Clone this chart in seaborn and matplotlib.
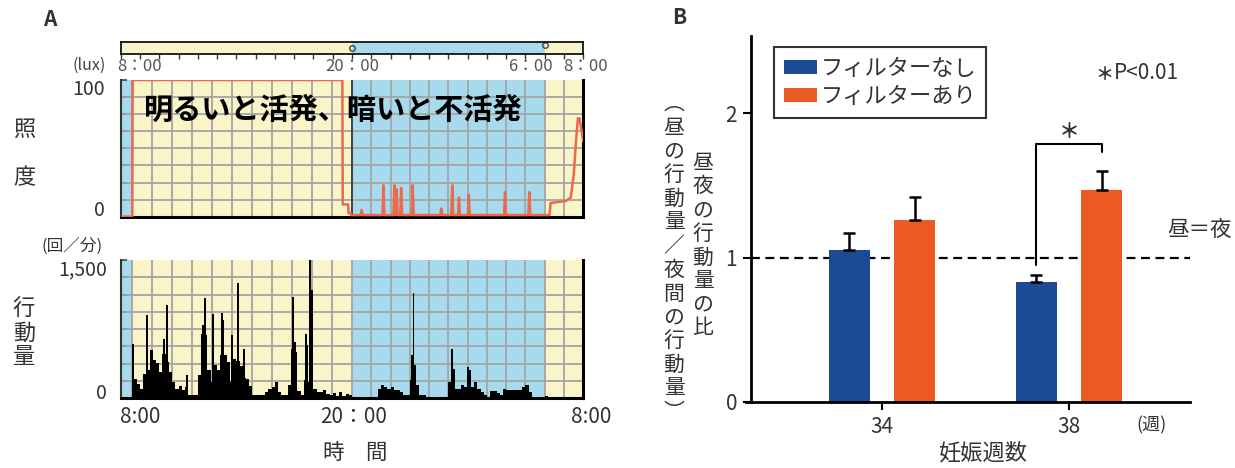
import numpy as np
import pandas as pd
import matplotlib
matplotlib.use("Agg")
import matplotlib.pyplot as plt
import seaborn as sns
from matplotlib.patches import Patch

# ---------------- data ----------------
# Panel A: illuminance trace (lux), x = hours after 8:00
lux_hours = [0.00, 0.60, 0.62, 11.50, 11.52, 11.80, 11.82, 11.93, 11.95,
             12.45, 12.50, 12.55,
             13.58, 13.63, 13.68,
             14.15, 14.20, 14.25,
             14.28, 14.32, 14.36,
             14.50, 14.55, 14.60,
             15.10, 15.15, 15.20,
             16.58, 16.63, 16.68,
             17.15, 17.20, 17.25,
             17.50, 17.55, 17.60,
             18.01, 18.06, 18.11,
             19.89, 19.94, 19.99,
             21.15, 21.20, 21.25,
             22.25, 22.30, 23.10, 23.35, 23.50, 23.62, 23.72, 23.80, 23.90, 24.00]
lux_values = [0, 0, 100, 100, 9, 9, 2.5, 2.5, 1.2,
              1.2, 5, 1.2,
              1.2, 23, 1.2,
              1.2, 23, 1.2,
              1.2, 20, 1.2,
              1.2, 21, 1.2,
              1.2, 23, 1.2,
              1.2, 6, 1.2,
              1.2, 23, 1.2,
              1.2, 14, 1.2,
              1.2, 16, 1.2,
              1.2, 18, 1.2,
              1.2, 18, 1.2,
              1.2, 10, 11.5, 14, 30, 55, 72, 72, 64, 55]

# Panel A: activity (counts/min), 10-minute levels starting at 8:00
activity_base = [
    0, 0, 0, 0, 210, 150,          # 8h
    100, 265, 300, 520, 410, 380,  # 9h
    283, 480, 392, 280, 174, 100,  # 10h
    130, 83, 120, 30, 30, 30,      # 11h
    250, 700, 682, 300, 174, 356,  # 12h
    300, 465, 465, 392, 174, 420,  # 13h
    400, 350, 220, 210, 130, 30,   # 14h
    30, 30, 30, 60, 100, 120,      # 15h
    174, 60, 30, 30, 138, 500,     # 16h
    500, 80, 30, 200, 174, 400,    # 17h
    100, 65, 65, 83, 40, 30,       # 18h
    50, 20, 60, 20, 40, 30,        # 19h
    0, 0, 0, 0, 0, 0,              # 20h
    0, 0, 100, 145, 120, 100,      # 21h
    120, 83, 83, 60, 30, 30,       # 22h
    200, 356, 138, 30, 30, 0,      # 23h
    10, 10, 10, 10, 10, 10,        # 0h
    174, 320, 100, 100, 138, 120,  # 1h
    300, 120, 174, 100, 65, 30,    # 2h
    0, 72, 72, 50, 30, 100,        # 3h
    90, 83, 83, 83, 83, 120,       # 4h
    138, 60, 0, 0, 0, 0,           # 5h
    20, 0, 0, 0, 0, 0,             # 6h
    0, 0, 0, 0, 0, 0,              # 7h
]
# narrow activity peaks
peak_hours = [0.64, 1.38, 2.26, 2.39, 3.42, 4.28, 4.37, 4.80, 5.24, 5.33, 5.79,
              6.10, 6.42, 8.87, 8.96, 9.04, 9.60, 9.65, 9.82, 9.91, 15.10,
              15.19, 15.27, 17.21, 18.04]
peak_counts = [592, 907, 639, 1016, 247, 791, 1089, 918, 929, 846, 682,
               1245, 537, 537, 1100, 610, 700, 574, 1500, 1172, 465,
               1136, 356, 537, 338]

# light (yellow) / dark (blue) periods, hours after 8:00
period_start = [0.0, 0.57, 12.0, 22.0]
period_end = [0.57, 12.0, 22.0, 24.0]
period_kind = ["dark", "light", "dark", "light"]
bar_start = [0.0, 12.0, 22.0]
bar_end = [12.0, 22.0, 24.0]
bar_kind = ["light", "dark", "light"]

# Panel B
weeks = ["34", "38"]
groups = ["フィルターなし", "フィルターあり"]
ratio_no_filter = [1.05, 0.83]
ratio_filter = [1.26, 1.47]
sem_no_filter = [0.12, 0.05]
sem_filter = [0.16, 0.13]

# ---------------- figure ----------------
sns.set_theme(style="white")
plt.rcParams["font.family"] = ["Noto Sans CJK JP", "DejaVu Sans"]
plt.rcParams["axes.unicode_minus"] = False

W, H = 1235, 468
fig = plt.figure(figsize=(W / 100, H / 100), dpi=100)
fig.patch.set_facecolor("white")

YELLOW = "#FAF5C8"
SKY = "#A8DAEE"
GRID = "#A4A4A4"
RED = "#EA6A4B"
TXT = "#333333"
NAVY = "#1C4A94"
ORANGE = "#EC5A24"
fill = {"light": YELLOW, "dark": SKY}


def px_axes(x0, y0, x1, y1):
    return fig.add_axes([x0 / W, 1 - y1 / H, (x1 - x0) / W, (y1 - y0) / H])


def ftext(x, y, s, **kw):
    kw.setdefault("color", TXT)
    return fig.text(x / W, 1 - y / H, s, **kw)


X0, X1 = 120.7, 583.3
vgrid = list(np.linspace(0.57, 12, 12)) + list(range(13, 24))


def style_trace_axes(ax, ymax):
    ax.set_facecolor("none")
    ax.grid(False)
    for s, e, k in zip(period_start, period_end, period_kind):
        ax.axvspan(s, e, color=fill[k], lw=0, zorder=0)
    for x in vgrid:
        ax.axvline(x, color=GRID, lw=1.3, zorder=0.6)
    for y in np.linspace(0, ymax, 9)[1:-1]:
        ax.axhline(y, color=GRID, lw=1.3, zorder=0.6)
    ax.set_xlim(0, 24)
    ax.set_ylim(0, ymax)
    ax.set_xticks([])
    ax.set_yticks(np.linspace(0, ymax, 9))
    ax.tick_params(axis="y", direction="in", length=4, width=1.1,
                   color="#333333", labelleft=False, left=True)
    ax.spines["top"].set_visible(False)
    ax.spines["left"].set_color("#333333")
    ax.spines["left"].set_linewidth(1.5)
    for sp in ("bottom", "right"):
        ax.spines[sp].set_color("black")
        ax.spines[sp].set_linewidth(2.2)
    ax.set_xlabel("")
    ax.set_ylabel("")


# --- top light bar ---
ax_top = px_axes(X0, 41.7, X1, 54)
for s, e, k in zip(bar_start, bar_end, bar_kind):
    ax_top.axvspan(s, e, color=fill[k], lw=0, zorder=0)
ax_top.set_xlim(0, 24)
ax_top.set_ylim(0, 1)
ax_top.set_xticks(range(25))
ax_top.set_yticks([])
ax_top.tick_params(axis="x", direction="out", length=3.5, width=1,
                   color="#333333", labelbottom=False, bottom=True)
for sp in ax_top.spines.values():
    sp.set_color("black")
    sp.set_linewidth(1.2)
ax_top.plot([12, 22], [0.5, 0.75], ls="none", marker="o", ms=4,
            mfc="none", mec="#444444", mew=1)

# --- illuminance ---
ax_lux = px_axes(X0, 80, X1, 216.7)
style_trace_axes(ax_lux, 100)
sns.lineplot(x=lux_hours, y=lux_values, sort=False, estimator=None,
             color=RED, lw=1.8, ax=ax_lux, zorder=3)
ax_lux.axvline(12, color="#3a3a3a", lw=1.3, zorder=2)
ax_lux.set_xlim(0, 24)
ax_lux.set_ylim(0, 100)

# --- activity ---
ax_act = px_axes(X0, 260, X1, 398)
style_trace_axes(ax_act, 1500)
bin_centers = np.arange(len(activity_base)) / 6 + 1 / 12
ax_act.bar(bin_centers, activity_base, width=1 / 6, color="black", lw=0, zorder=3)
ax_act.bar(peak_hours, peak_counts, width=0.1, color="black", lw=0, zorder=3)
ax_act.set_xlim(0, 24)
ax_act.set_ylim(0, 1500)

# panel A texts
ftext(50, 19, "A", ha="center", va="center", fontsize=15, fontweight="bold")
ftext(106, 70, "(lux)", ha="right", va="baseline", fontsize=11.5, color="#444444")
ftext(117, 71, "8：00", ha="left", va="baseline", fontsize=12, color="#555555")
ftext(352, 71, "20：00", ha="center", va="baseline", fontsize=12, color="#555555")
ftext(530, 71, "6：00", ha="center", va="baseline", fontsize=12, color="#555555")
ftext(586, 71, "8：00", ha="center", va="baseline", fontsize=12, color="#555555")
ftext(105, 95, "100", ha="right", va="baseline", fontsize=14)
ftext(105, 216, "0", ha="right", va="baseline", fontsize=14)
ftext(107, 275, "1,500", ha="right", va="baseline", fontsize=14)
ftext(107, 399, "0", ha="right", va="baseline", fontsize=14)
ftext(24, 129, "照", ha="center", va="center", fontsize=16)
ftext(24, 178, "度", ha="center", va="center", fontsize=16)
ftext(72, 246, "(回／分)", ha="center", va="center", fontsize=12)
ftext(24, 333, "行\n動\n量", ha="center", va="center", fontsize=16, linespacing=1.05)
ftext(120, 423, "8:00", ha="left", va="baseline", fontsize=15)
ftext(354, 423, "20：00", ha="center", va="baseline", fontsize=15)
ftext(591, 423, "8:00", ha="center", va="baseline", fontsize=15)
ftext(355, 453, "時　間", ha="center", va="center", fontsize=15.5)
ftext(144, 110, "明るいと活発、暗いと不活発", ha="left", va="center",
      fontsize=21, fontweight="bold", color="black")

# --- panel B ---
ax_b = px_axes(746, 36, 1190, 402)
ax_b.set_facecolor("none")
df = pd.DataFrame({
    "week": weeks * 2,
    "group": [groups[0]] * len(weeks) + [groups[1]] * len(weeks),
    "ratio": ratio_no_filter + ratio_filter,
    "sem": sem_no_filter + sem_filter,
})
sns.barplot(data=df, x="week", y="ratio", hue="group", order=weeks,
            hue_order=groups, palette=[NAVY, ORANGE], width=0.697, gap=0.378,
            errorbar=None, saturation=1, linewidth=0, legend=False, ax=ax_b,
            zorder=2)
centers = {}
for p in ax_b.patches:
    cx = p.get_x() + p.get_width() / 2
    h = p.get_height()
    row = df.loc[np.isclose(df["ratio"], h)].iloc[0]
    centers[(row["week"], row["group"])] = (cx, h)
    ax_b.errorbar(cx, h, yerr=[[0], [row["sem"]]], fmt="none", ecolor="black",
                  elinewidth=1.8, capsize=4, capthick=1.8, zorder=3)

ax_b.set_xlim(-0.727, 1.647)
ax_b.set_ylim(0, 2.533)
ax_b.set_yticks([0, 1, 2])
ax_b.set_yticklabels(["0", "1", "2"])
ax_b.tick_params(axis="both", direction="out", length=6, width=1.5,
                 color="black", labelsize=15, labelcolor=TXT, pad=4,
                 left=True, bottom=True)
ax_b.grid(False)
for sp in ("top", "right"):
    ax_b.spines[sp].set_visible(False)
for sp in ("left", "bottom"):
    ax_b.spines[sp].set_color("black")
    ax_b.spines[sp].set_linewidth(2)
ax_b.spines["left"].set_position(("axes", 5 / 444))
ax_b.set_xlabel("")
ax_b.set_ylabel("")
ax_b.axhline(1, xmin=5 / 444, xmax=1, color="black", lw=1.6,
             ls=(0, (4, 2.5)), zorder=1)

# significance bracket at week 38
xl = centers[(weeks[1], groups[0])][0]
xr = centers[(weeks[1], groups[1])][0]
ax_b.plot([xl, xl, xr, xr], [0.95, 1.785, 1.785, 1.73], color="black",
          lw=1.5, zorder=3)
ax_b.text((xl + xr) / 2, 1.875, "＊", ha="center", va="center",
          fontsize=15, fontweight="bold", color=TXT)

handles = [Patch(facecolor=NAVY, edgecolor="none", label=groups[0]),
           Patch(facecolor=ORANGE, edgecolor="none", label=groups[1])]
leg = ax_b.legend(handles=handles, loc="upper left",
                  bbox_to_anchor=(773.7 / W, 1 - 46.7 / H),
                  bbox_transform=fig.transFigure, frameon=True, fancybox=False,
                  edgecolor="black", fontsize=16, handlelength=1.5,
                  handleheight=0.6, handletextpad=0.15, labelspacing=0.25,
                  borderpad=0.45, borderaxespad=0)
leg.get_frame().set_linewidth(1.5)
for t in leg.get_texts():
    t.set_color(TXT)

ftext(679, 17, "B", ha="center", va="center", fontsize=15, fontweight="bold")
ftext(1104, 74, "＊", ha="center", va="center", fontsize=13, fontweight="bold")
ftext(1114, 73, "P<0.01", ha="left", va="center", fontsize=15)
ftext(1167, 231, "昼＝夜", ha="left", va="center", fontsize=15.5)
ftext(1151, 430, "(週)", ha="center", va="baseline", fontsize=13)
ftext(983, 453, "妊娠週数", ha="center", va="center", fontsize=16)
ftext(674, 258, "\n".join("︵昼の行動量／夜間の行動量︶"), ha="center",
      va="center", fontsize=15, linespacing=1.1)
ftext(703, 245.5, "\n".join("昼夜の行動量の比"), ha="center", va="center",
      fontsize=15, linespacing=1.1)

fig.savefig("out.png", dpi=100)
